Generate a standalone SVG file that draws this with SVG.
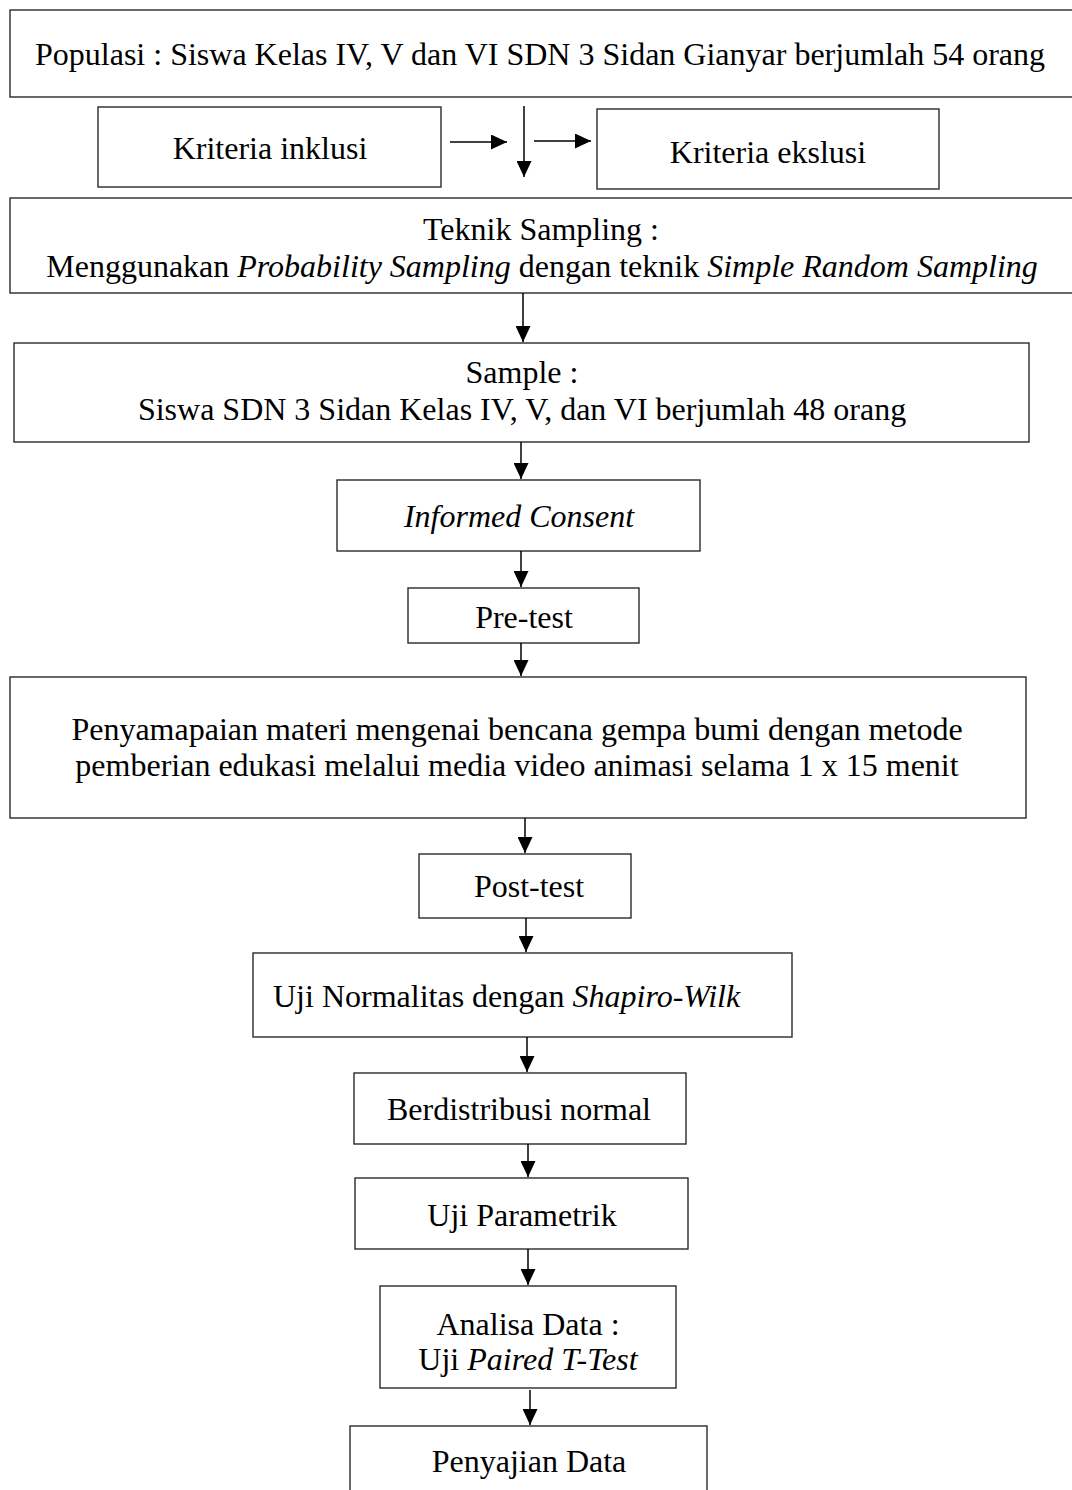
<svg xmlns="http://www.w3.org/2000/svg" width="1072" height="1490" viewBox="0 0 1072 1490">
<style>
.box{fill:#fff;stroke:#2a2a2a;stroke-width:1.4}
.t{font-family:"Liberation Serif","Times New Roman",serif;font-size:32px;fill:#000;text-anchor:middle}
.i{font-style:italic}
.c{stroke:#000;stroke-width:1.5;fill:none;marker-end:url(#ah)}
</style>
<defs>
<marker id="ah" markerUnits="userSpaceOnUse" markerWidth="16" markerHeight="15" refX="16" refY="7.5" orient="auto">
<path d="M0,0 L16,7.5 L0,15 Z" fill="#000"/>
</marker>
</defs>
<rect width="1072" height="1490" fill="#fff"/>
<g id="populasi"><rect class="box" x="10" y="10" width="1066" height="87"/><text class="t" x="540" y="65">Populasi : Siswa Kelas IV, V dan VI SDN 3 Sidan Gianyar berjumlah 54 orang</text></g>
<g id="inklusi"><rect class="box" x="98" y="107" width="343" height="80"/><text class="t" x="270" y="159">Kriteria inklusi</text></g>
<g id="ekslusi"><rect class="box" x="597" y="109" width="342" height="80"/><text class="t" x="768" y="163">Kriteria ekslusi</text></g>
<g id="teknik"><rect class="box" x="10" y="198" width="1066" height="95"/><text class="t" x="541" y="240">Teknik Sampling :</text><text class="t" x="542" y="277">Menggunakan <tspan class="i">Probability Sampling</tspan> dengan teknik <tspan class="i">Simple Random Sampling</tspan></text></g>
<g id="sample"><rect class="box" x="14" y="343" width="1015" height="99"/><text class="t" x="522" y="383">Sample :</text><text class="t" x="522" y="420">Siswa SDN 3 Sidan Kelas IV, V, dan VI berjumlah 48 orang</text></g>
<g id="consent"><rect class="box" x="337" y="480" width="363" height="71"/><text class="t i" x="519" y="527">Informed Consent</text></g>
<g id="pretest"><rect class="box" x="408" y="588" width="231" height="55"/><text class="t" x="524" y="628">Pre-test</text></g>
<g id="materi"><rect class="box" x="10" y="677" width="1016" height="141"/><text class="t" x="517" y="740">Penyamapaian materi mengenai bencana gempa bumi dengan metode</text><text class="t" x="517" y="776">pemberian edukasi melalui media video animasi selama 1 x 15 menit</text></g>
<g id="posttest"><rect class="box" x="419" y="854" width="212" height="64"/><text class="t" x="529" y="897">Post-test</text></g>
<g id="normalitas"><rect class="box" x="253" y="953" width="539" height="84"/><text class="t" x="273" y="1007" style="text-anchor:start">Uji Normalitas dengan <tspan class="i">Shapiro-Wilk</tspan></text></g>
<g id="normal"><rect class="box" x="354" y="1073" width="332" height="71"/><text class="t" x="519" y="1120">Berdistribusi normal</text></g>
<g id="parametrik"><rect class="box" x="355" y="1178" width="333" height="71"/><text class="t" x="522" y="1226">Uji Parametrik</text></g>
<g id="analisa"><rect class="box" x="380" y="1286" width="296" height="102"/><text class="t" x="528" y="1335">Analisa Data :</text><text class="t" x="528" y="1370">Uji <tspan class="i">Paired T-Test</tspan></text></g>
<g id="penyajian"><rect class="box" x="350" y="1426" width="357" height="80"/><text class="t" x="529" y="1472">Penyajian Data</text></g>
<g id="connectors">
<line class="c" x1="524" y1="106" x2="524" y2="177"/>
<line class="c" x1="450" y1="142" x2="507" y2="142"/>
<line class="c" x1="534" y1="141" x2="591" y2="141"/>
<line class="c" x1="523" y1="293" x2="523" y2="342"/>
<line class="c" x1="521" y1="442" x2="521" y2="479"/>
<line class="c" x1="521" y1="551" x2="521" y2="587"/>
<line class="c" x1="521" y1="643" x2="521" y2="676"/>
<line class="c" x1="525" y1="818" x2="525" y2="853"/>
<line class="c" x1="526" y1="918" x2="526" y2="952"/>
<line class="c" x1="527" y1="1037" x2="527" y2="1072"/>
<line class="c" x1="528" y1="1144" x2="528" y2="1177"/>
<line class="c" x1="528" y1="1249" x2="528" y2="1285"/>
<line class="c" x1="530" y1="1390" x2="530" y2="1425"/>
</g>
</svg>
